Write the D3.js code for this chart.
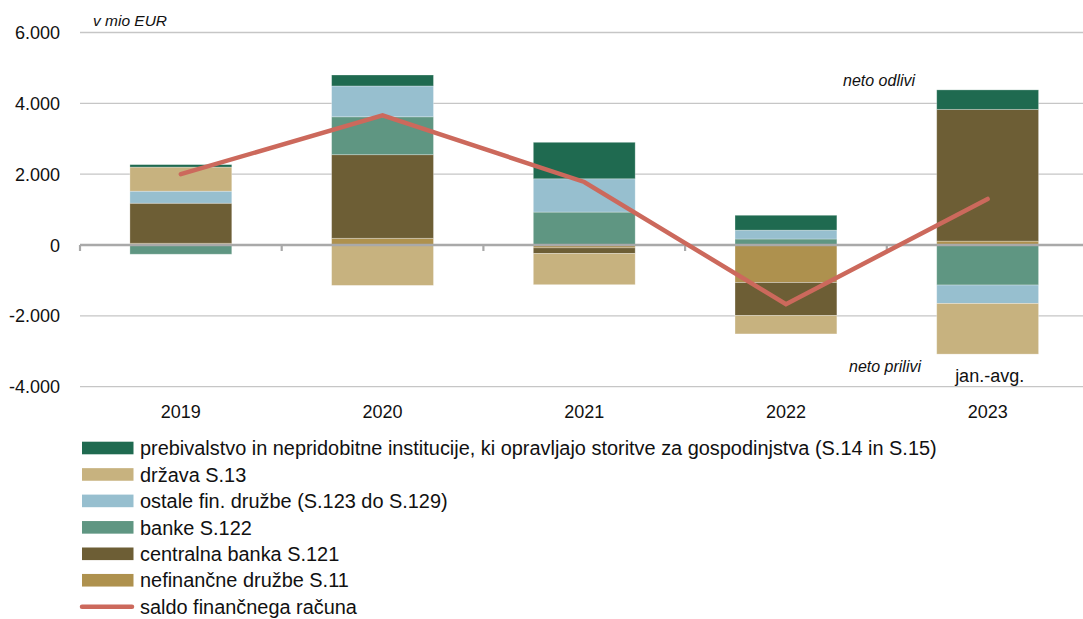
<!DOCTYPE html>
<html>
<head>
<meta charset="utf-8">
<script src="https://cdn.jsdelivr.net/npm/d3@7"></script>
<style>
  html, body { margin: 0; padding: 0; background: #fff; }
  svg { display: block; font-family: "Liberation Sans", Arial, sans-serif; }
</style>
</head>
<body>
<svg id="chart" width="1083" height="619"></svg>
<script>
// ---- data ----
const categories = ["2019", "2020", "2021", "2022", "2023"];
const seriesKeys = ["nef", "cb", "banke", "ostale", "drzava", "preb"];
const seriesLabels = {
  preb: "prebivalstvo in nepridobitne institucije, ki opravljajo storitve za gospodinjstva (S.14 in S.15)",
  drzava: "država S.13",
  ostale: "ostale fin. družbe (S.123 do S.129)",
  banke: "banke S.122",
  cb: "centralna banka S.121",
  nef: "nefinančne družbe S.11"
};
const nef    = [50, 190, -80, -1060, 110];
const cb     = [1130, 2360, -160, -930, 3720];
const banke  = [-260, 1070, 930, 170, -1130];
const ostale = [340, 870, 940, 250, -520];
const drzava = [680, -1140, -880, -520, -1430];
const preb   = [70, 310, 1030, 420, 550];
const saldo  = [2000, 3660, 1780, -1670, 1300];
const saldoLabel = "saldo finančnega računa";
const yTicks = [-4000, -2000, 0, 2000, 4000, 6000];
const unitLabel = "v mio EUR";
const noteTop = "neto odlivi";
const noteBottom = "neto prilivi";
const lastNote = "jan.-avg.";

const colors = {
  preb: "#1f6a50",
  drzava: "#c7b27f",
  ostale: "#97bfcf",
  banke: "#5f9682",
  cb: "#6d5e35",
  nef: "#ae914e"
};
const lineColor = "#cc695c";

// ---- build table ----
const seriesData = { nef, cb, banke, ostale, drzava, preb };
const table = categories.map((c, i) => {
  const row = { cat: c };
  seriesKeys.forEach(k => row[k] = seriesData[k][i]);
  return row;
});

const svg = d3.select("#chart");
const W = 1083;
const plotLeft = 80, plotRight = 1088.5;
const x = d3.scaleBand().domain(categories).range([plotLeft, plotRight])
  .paddingInner(0.495).paddingOuter(0.2475);
const y = d3.scaleLinear().domain([-4000, 6000]).range([386.7, 32.5]);
const step = x.step();

const loc = d3.formatLocale({ decimal: ",", thousands: ".", grouping: [3], currency: ["", "€"], minus: "-" });
const fmt = loc.format(",d");

// gridlines
svg.append("g").selectAll("line").data(yTicks.filter(t => t !== 0)).join("line")
  .attr("x1", plotLeft).attr("x2", W)
  .attr("y1", d => y(d)).attr("y2", d => y(d))
  .attr("stroke", "#c6c6c6").attr("stroke-width", 1.3);

// y labels
svg.append("g").selectAll("text").data(yTicks).join("text")
  .attr("x", 60).attr("y", d => y(d)).attr("dy", "0.36em")
  .attr("text-anchor", "end").attr("font-size", 18).attr("fill", "#111")
  .text(d => fmt(d));

// stacked bars
const stack = d3.stack().keys(seriesKeys).offset(d3.stackOffsetDiverging);
const stacked = stack(table);
svg.append("g").selectAll("g").data(stacked).join("g")
  .attr("fill", d => colors[d.key])
  .selectAll("rect").data(d => d).join("rect")
  .attr("x", d => x(d.data.cat))
  .attr("width", x.bandwidth())
  .attr("y", d => y(Math.max(d[0], d[1])))
  .attr("height", d => Math.abs(y(d[0]) - y(d[1])))
  .attr("stroke", "rgba(255,255,255,0.35)").attr("stroke-width", 0.8);

// zero line
svg.append("line")
  .attr("x1", plotLeft).attr("x2", W)
  .attr("y1", y(0)).attr("y2", y(0))
  .attr("stroke", "#a9a9a9").attr("stroke-width", 2.6);

// x ticks at band boundaries
const bounds = categories.map(c => x(c) - step * x.paddingInner() / 2);
svg.append("g").selectAll("line").data(bounds).join("line")
  .attr("x1", d => d).attr("x2", d => d)
  .attr("y1", y(0)).attr("y2", y(0) + 6)
  .attr("stroke", "#a9a9a9").attr("stroke-width", 2.2);

// x labels
svg.append("g").selectAll("text").data(categories).join("text")
  .attr("x", d => x(d) + x.bandwidth() / 2).attr("y", 418)
  .attr("text-anchor", "middle").attr("font-size", 18).attr("fill", "#111")
  .text(d => d);

// saldo line
const line = d3.line().x((d, i) => x(categories[i]) + x.bandwidth() / 2).y(d => y(d));
svg.append("path").datum(saldo)
  .attr("d", line).attr("fill", "none")
  .attr("stroke", lineColor).attr("stroke-width", 4.5)
  .attr("stroke-linecap", "round").attr("stroke-linejoin", "miter");

// annotations
svg.append("text").attr("x", 93).attr("y", 25.5).attr("font-size", 15.5)
  .attr("font-style", "italic").attr("fill", "#111").text(unitLabel);
svg.append("text").attr("x", 843).attr("y", 86).attr("font-size", 16)
  .attr("font-style", "italic").attr("fill", "#111").text(noteTop);
svg.append("text").attr("x", 849).attr("y", 372).attr("font-size", 16)
  .attr("font-style", "italic").attr("fill", "#111").text(noteBottom);
svg.append("text").attr("x", x(categories[4]) + x.bandwidth() / 2 + 2).attr("y", 382)
  .attr("text-anchor", "middle").attr("font-size", 18).attr("fill", "#111").text(lastNote);

// legend
const legendKeys = ["preb", "drzava", "ostale", "banke", "cb", "nef"];
const lg = svg.append("g");
const rowY = i => 448 + i * 26.45;
legendKeys.forEach((k, i) => {
  lg.append("rect").attr("x", 82).attr("y", rowY(i) - 6.3).attr("width", 51.5).attr("height", 12.6)
    .attr("fill", colors[k]);
  lg.append("text").attr("class", "lt").attr("x", 140).attr("y", rowY(i)).attr("dy", "0.36em")
    .attr("font-size", 19.5).attr("fill", "#111").text(seriesLabels[k]);
});
lg.append("line").attr("x1", 82).attr("x2", 132).attr("y1", rowY(6)).attr("y2", rowY(6))
  .attr("stroke", lineColor).attr("stroke-width", 4.5).attr("stroke-linecap", "round");
lg.append("text").attr("class", "lt").attr("x", 140).attr("y", rowY(6)).attr("dy", "0.36em")
  .attr("font-size", 19.5).attr("fill", "#111").text(saldoLabel);

// fit legend font so the long label spans ~797px
const first = lg.select("text.lt").node();
const wlen = first.getComputedTextLength();
const fs = 19.5 * 797 / wlen;
lg.selectAll("text.lt").attr("font-size", fs);
</script>
</body>
</html>
